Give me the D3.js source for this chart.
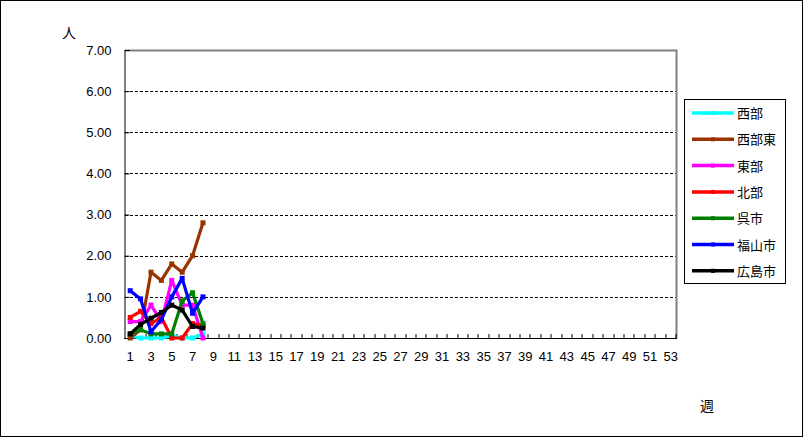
<!DOCTYPE html>
<html><head><meta charset="utf-8">
<script src="https://cdn.jsdelivr.net/npm/d3@7"></script>
<style>body{margin:0;background:#fff}svg{display:block}</style>
</head><body>
<script>
const weeks = d3.range(1, 54);
const yTicks = [0, 1, 2, 3, 4, 5, 6, 7];
const seriesNames = ["西部", "西部東", "東部", "北部", "呉市", "福山市", "広島市"];
const seriesColors = ["#00ffff", "#993300", "#ff00ff", "#ff0000", "#008000", "#0000ff", "#000000"];
const seiBu     = [0.05, 0, 0, 0, 0.05, 0, 0, 0.1];
const seiBuHigashi = [0, 0.2, 1.6, 1.4, 1.8, 1.6, 2.0, 2.8];
const touBu     = [0.4, 0.4, 0.8, 0.4, 1.4, 0.8, 0.8, 0];
const hokuBu    = [0.5, 0.65, 0.35, 0.5, 0, 0, 0.35, 0.3];
const kureShi   = [0.1, 0.2, 0.1, 0.1, 0.1, 0.9, 1.1, 0.35];
const fukuyama  = [1.15, 0.95, 0.15, 0.45, 1.0, 1.45, 0.6, 1.0];
const hiroshima = [0.1, 0.33, 0.48, 0.62, 0.8, 0.68, 0.28, 0.24];
const seriesValues = [seiBu, seiBuHigashi, touBu, hokuBu, kureShi, fukuyama, hiroshima];

const W = 803, H = 437;
const L = 125, R = 676, T = 50, B = 338;
const svg = d3.select("body").append("svg").attr("width", W).attr("height", H);
svg.append("rect").attr("x", 0.5).attr("y", 0.5).attr("width", W - 1).attr("height", H - 1)
  .attr("fill", "#fff").attr("stroke", "#000");

const x = d3.scaleBand().domain(weeks).range([L, R]);
const y = d3.scaleLinear().domain([0, 7]).range([B, T]);
const font = "'Liberation Sans', Arial, sans-serif";
const cjk = "'Noto Sans CJK JP', sans-serif";

// gridlines
svg.append("g").selectAll("line").data(yTicks.filter(d => d > 0 && d < 7)).join("line")
  .attr("x1", L).attr("x2", R).attr("y1", d => Math.round(y(d)) + 0.5).attr("y2", d => Math.round(y(d)) + 0.5)
  .attr("stroke", "#000").attr("stroke-dasharray", "3,2");
// plot border top/right grey
svg.append("path").attr("d", `M${L},${T + 0.5}H${R + 0.5}V${B}`).attr("fill", "none").attr("stroke", "#808080").attr("stroke-width", 2);

// y axis
const yAxis = d3.axisLeft(y).tickValues(yTicks).tickSize(-5).tickPadding(13).tickFormat(d3.format(".2f"));
const gy = svg.append("g").attr("transform", `translate(${L - 0.5},0)`).call(yAxis);
gy.select(".domain").attr("stroke", "#000");
gy.selectAll("text").attr("font-family", font).attr("font-size", 13).attr("fill", "#000");

// x axis
const xAxis = d3.axisBottom(x).tickValues(weeks.filter(d => d % 2 === 1)).tickSize(0).tickPadding(13);
const gx = svg.append("g").attr("transform", `translate(0,${B + 0.5})`).call(xAxis);
gx.select(".domain").remove();
gx.selectAll("text").attr("font-family", font).attr("font-size", 13).attr("fill", "#000");
svg.append("line").attr("x1", L - 1).attr("x2", R + 1).attr("y1", B + 0.5).attr("y2", B + 0.5).attr("stroke", "#000");
svg.append("g").selectAll("line").data(weeks).join("line")
  .attr("x1", d => Math.round(x(d) + x.bandwidth())).attr("x2", d => Math.round(x(d) + x.bandwidth()))
  .attr("y1", B - 4).attr("y2", B).attr("stroke", "#000");

// axis titles
svg.append("text").attr("x", 62).attr("y", 38).text("人").attr("font-family", cjk).attr("font-size", 14);
svg.append("text").attr("x", 700).attr("y", 411).text("週").attr("font-family", cjk).attr("font-size", 14);

// series
const line = d3.line().x((d, i) => x(weeks[i]) + x.bandwidth() / 2).y(d => y(d));
seriesValues.forEach((vals, k) => {
  const g = svg.append("g");
  g.append("path").attr("d", line(vals)).attr("fill", "none").attr("stroke", seriesColors[k])
    .attr("stroke-width", 3.2).attr("stroke-linejoin", "round");
  g.selectAll("rect").data(vals).join("rect")
    .attr("x", (d, i) => x(weeks[i]) + x.bandwidth() / 2 - 2.5).attr("y", d => y(d) - 2.5)
    .attr("width", 5).attr("height", 5).attr("fill", seriesColors[k]);
});

// legend
const lg = svg.append("g");
lg.append("rect").attr("x", 684.5).attr("y", 99.5).attr("width", 101).attr("height", 184)
  .attr("fill", "#fff").attr("stroke", "#000");
seriesNames.forEach((n, k) => {
  const yy = 113 + k * 26.3;
  lg.append("line").attr("x1", 692).attr("x2", 734).attr("y1", yy).attr("y2", yy)
    .attr("stroke", seriesColors[k]).attr("stroke-width", 3.5);
  lg.append("rect").attr("x", 711).attr("y", yy - 2).attr("width", 4).attr("height", 4).attr("fill", seriesColors[k]);
  lg.append("text").attr("x", 737).attr("y", yy + 5).text(n).attr("font-family", cjk).attr("font-size", 13).attr("fill", "#000");
});
</script>
</body></html>
